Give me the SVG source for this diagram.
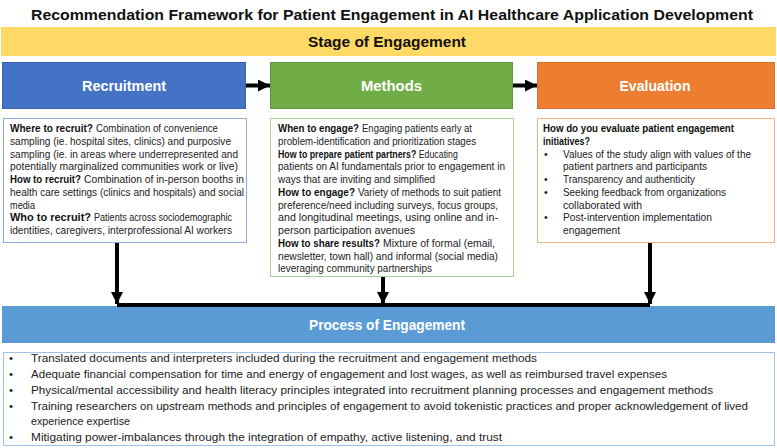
<svg xmlns="http://www.w3.org/2000/svg" width="777" height="448" viewBox="0 0 777 448">
<style>
text{font-family:"Liberation Sans",Arial,sans-serif;}
.title{font-size:15.5px;font-weight:bold;fill:#111;}
.band{font-size:15px;font-weight:bold;fill:#111;}
.head{font-size:14.5px;font-weight:bold;fill:#fff;}
.t{font-size:10.6px;fill:#222;}
.b{font-weight:bold;fill:#111;}
.bt{font-size:11.5px;fill:#222;}
.conn{stroke:#000;stroke-width:4;fill:none;}
</style>
<defs>
<marker id="ah" markerUnits="userSpaceOnUse" markerWidth="12" markerHeight="12" refX="12" refY="6" orient="auto">
<path d="M0,0 L12,6 L0,12 Z" fill="#000"/>
</marker>
</defs>
<rect width="777" height="448" fill="#fff"/>
<text class="title" x="392" y="19.5" text-anchor="middle" textLength="722" lengthAdjust="spacingAndGlyphs">Recommendation Framework for Patient Engagement in AI Healthcare Application Development</text>

<g id="stage">
<rect x="1" y="27" width="775" height="29" fill="#FFD966"/>
<text class="band" x="387" y="47" text-anchor="middle" textLength="158" lengthAdjust="spacingAndGlyphs">Stage of Engagement</text>
</g>

<g id="recruitment">
<rect x="2.5" y="62.5" width="243" height="46" fill="#4472C4" stroke="#3A64AE"/>
<text class="head" x="124" y="91" text-anchor="middle" textLength="84" lengthAdjust="spacingAndGlyphs">Recruitment</text>
</g>
<g id="methods">
<rect x="270.5" y="62.5" width="242" height="46" fill="#70AD47" stroke="#5E9A3A"/>
<text class="head" x="391.5" y="91" text-anchor="middle" textLength="61" lengthAdjust="spacingAndGlyphs">Methods</text>
</g>
<g id="evaluation">
<rect x="537.5" y="62.5" width="237" height="46" fill="#ED7D31" stroke="#D56E28"/>
<text class="head" x="655" y="91" text-anchor="middle" textLength="71" lengthAdjust="spacingAndGlyphs">Evaluation</text>
</g>

<g id="recruitment-details">
<rect x="3.5" y="118.5" width="243" height="124" fill="#fff" stroke="#8FAADC"/>
<text class="t b" x="10" y="132" textLength="83" lengthAdjust="spacingAndGlyphs">Where to recruit?</text>
<text class="t" x="96" y="132" textLength="122" lengthAdjust="spacingAndGlyphs">Combination of convenience</text>
<text class="t" x="10" y="144.75" textLength="221" lengthAdjust="spacingAndGlyphs">sampling (ie. hospital sites, clinics) and purposive</text>
<text class="t" x="10" y="157.5" textLength="228" lengthAdjust="spacingAndGlyphs">sampling (ie. in areas where underrepresented  and</text>
<text class="t" x="10" y="170.25" textLength="228" lengthAdjust="spacingAndGlyphs">potentially marginalized communities  work  or live)</text>
<text class="t b" x="10" y="183" textLength="71" lengthAdjust="spacingAndGlyphs">How to recruit?</text>
<text class="t" x="84" y="183" textLength="160" lengthAdjust="spacingAndGlyphs">Combination of in-person booths in</text>
<text class="t" x="10" y="195.75" textLength="234" lengthAdjust="spacingAndGlyphs">health care settings (clinics and hospitals) and social</text>
<text class="t" x="10" y="208.5" textLength="25" lengthAdjust="spacingAndGlyphs">media</text>
<text class="t b" x="10" y="221.25" textLength="81" lengthAdjust="spacingAndGlyphs">Who to recruit?</text>
<text class="t" x="94" y="221.25" textLength="138" lengthAdjust="spacingAndGlyphs">Patients across sociodemographic</text>
<text class="t" x="10" y="234" textLength="222" lengthAdjust="spacingAndGlyphs">identities, caregivers, interprofessional AI workers</text>
</g>

<g id="methods-details">
<rect x="270.5" y="118.5" width="243" height="158" fill="#fff" stroke="#A9D18E"/>
<text class="t b" x="278" y="132" textLength="81" lengthAdjust="spacingAndGlyphs">When to engage?</text>
<text class="t" x="362" y="132" textLength="110" lengthAdjust="spacingAndGlyphs">Engaging patients early at</text>
<text class="t" x="278" y="144.75" textLength="198" lengthAdjust="spacingAndGlyphs">problem-identification and prioritization stages</text>
<text class="t" transform="translate(278 157.5) scale(0.83 1)"><tspan class="b">How to prepare patient partners?</tspan> Educating</text>
<text class="t" x="278" y="170.25" textLength="227" lengthAdjust="spacingAndGlyphs">patients on AI fundamentals prior to engagement in</text>
<text class="t" x="278" y="183" textLength="157" lengthAdjust="spacingAndGlyphs">ways that are inviting and simplified</text>
<text class="t b" x="278" y="195.75" textLength="77" lengthAdjust="spacingAndGlyphs">How to engage?</text>
<text class="t" x="358" y="195.75" textLength="143" lengthAdjust="spacingAndGlyphs">Variety of methods to suit patient</text>
<text class="t" x="278" y="208.5" textLength="220" lengthAdjust="spacingAndGlyphs">preference/need including surveys, focus groups,</text>
<text class="t" x="278" y="221.25" textLength="220" lengthAdjust="spacingAndGlyphs">and longitudinal meetings, using online and in-</text>
<text class="t" x="278" y="234" textLength="137" lengthAdjust="spacingAndGlyphs">person participation avenues</text>
<text class="t b" x="278" y="246.75" textLength="102" lengthAdjust="spacingAndGlyphs">How to share results?</text>
<text class="t" x="383" y="246.75" textLength="112" lengthAdjust="spacingAndGlyphs">Mixture of formal (email,</text>
<text class="t" x="278" y="259.5" textLength="220" lengthAdjust="spacingAndGlyphs">newsletter, town hall) and informal (social media)</text>
<text class="t" x="278" y="272.25" textLength="154" lengthAdjust="spacingAndGlyphs">leveraging community partnerships</text>
</g>

<g id="evaluation-details">
<rect x="537.5" y="118.5" width="237" height="124" fill="#fff" stroke="#F4B183"/>
<text class="t b" x="543" y="132" textLength="191" lengthAdjust="spacingAndGlyphs">How do you evaluate patient engagement</text>
<text class="t b" x="543" y="144.75" textLength="47" lengthAdjust="spacingAndGlyphs">initiatives?</text>
<text class="t" x="544" y="157.5">•</text>
<text class="t" x="563" y="157.5" textLength="188" lengthAdjust="spacingAndGlyphs">Values of the study align with values of the</text>
<text class="t" x="563" y="170.25" textLength="144" lengthAdjust="spacingAndGlyphs">patient partners and participants</text>
<text class="t" x="544" y="183">•</text>
<text class="t" x="563" y="183" textLength="132" lengthAdjust="spacingAndGlyphs">Transparency and authenticity</text>
<text class="t" x="544" y="195.75">•</text>
<text class="t" x="563" y="195.75" textLength="163" lengthAdjust="spacingAndGlyphs">Seeking feedback from  organizations</text>
<text class="t" x="563" y="208.5" textLength="79" lengthAdjust="spacingAndGlyphs">collaborated with</text>
<text class="t" x="544" y="221.25">•</text>
<text class="t" x="563" y="221.25" textLength="149" lengthAdjust="spacingAndGlyphs">Post-intervention  implementation</text>
<text class="t" x="563" y="234" textLength="57" lengthAdjust="spacingAndGlyphs">engagement</text>
</g>

<g id="process">
<rect x="2" y="306" width="773" height="37" fill="#5B9BD5"/>
<text class="head" x="387" y="330" text-anchor="middle" textLength="156" lengthAdjust="spacingAndGlyphs">Process of Engagement</text>
</g>

<g id="process-details">
<rect x="3.5" y="352.5" width="771" height="93" fill="#fff" stroke="#9DC3E6"/>
<text class="bt" x="9" y="362">•</text>
<text class="bt" x="31" y="362" textLength="506" lengthAdjust="spacingAndGlyphs">Translated documents and interpreters included during the recruitment and engagement methods</text>
<text class="bt" x="9" y="378">•</text>
<text class="bt" x="31" y="378" textLength="636" lengthAdjust="spacingAndGlyphs">Adequate financial compensation for time  and energy of engagement and lost wages, as well as reimbursed travel expenses</text>
<text class="bt" x="9" y="394">•</text>
<text class="bt" x="31" y="394" textLength="682" lengthAdjust="spacingAndGlyphs">Physical/mental accessibility and health literacy principles integrated into recruitment planning processes and engagement methods</text>
<text class="bt" x="9" y="409.5">•</text>
<text class="bt" x="31" y="409.5" textLength="717" lengthAdjust="spacingAndGlyphs">Training researchers on upstream methods and principles of engagement to avoid tokenistic practices and proper acknowledgement of lived</text>
<text class="bt" x="31" y="425" textLength="99" lengthAdjust="spacingAndGlyphs">experience expertise</text>
<text class="bt" x="9" y="441">•</text>
<text class="bt" x="31" y="441" textLength="471" lengthAdjust="spacingAndGlyphs">Mitigating  power-imbalances through the integration of empathy, active listening, and trust</text>
</g>

<g id="connectors">
<line class="conn" x1="246" y1="85.5" x2="270" y2="85.5" marker-end="url(#ah)"/>
<line class="conn" x1="513" y1="85.5" x2="537" y2="85.5" marker-end="url(#ah)"/>
<line class="conn" x1="117" y1="305" x2="650" y2="305"/>
<line class="conn" x1="117" y1="243" x2="117" y2="304" marker-end="url(#ah)"/>
<line class="conn" x1="383" y1="277" x2="383" y2="304" marker-end="url(#ah)"/>
<line class="conn" x1="650" y1="243" x2="650" y2="304" marker-end="url(#ah)"/>
</g>
</svg>
